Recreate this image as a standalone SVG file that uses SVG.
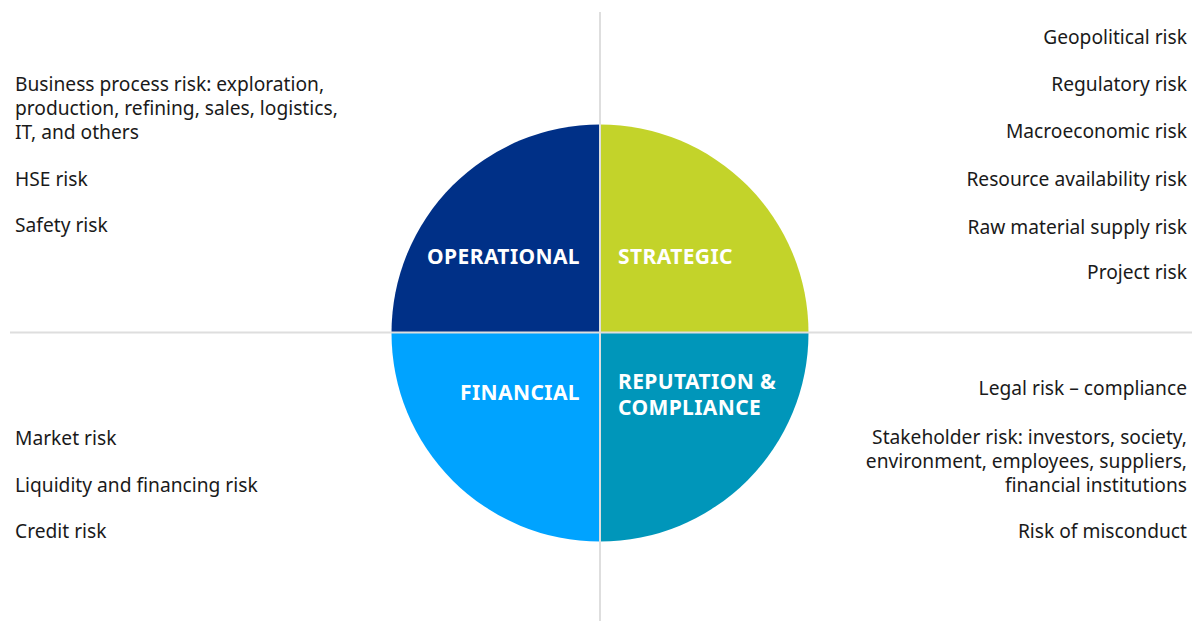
<svg xmlns="http://www.w3.org/2000/svg" width="1192" height="621" viewBox="0 0 1192 621">
  <style>
    .item { font-family: "Noto Sans", "Open Sans", sans-serif; font-size: 19.2px; fill: #1a1a1a; }
    .end { text-anchor: end; }
    .label { font-family: "Noto Sans", "Open Sans", sans-serif; font-size: 21px; font-weight: bold; fill: #ffffff; letter-spacing: 0.4px; }
    .axis { stroke: #dedede; stroke-width: 2; fill: none; }
  </style>
  <rect width="1192" height="621" fill="#ffffff"/>

  <!-- quadrant wedges of the risk circle -->
  <g id="operational">
    <path d="M600,333 L391.5,333 A208.5,208.5 0 0 1 600,124.5 Z" fill="#003087"/>
    <text class="label end" x="580" y="264">OPERATIONAL</text>
  </g>
  <g id="strategic">
    <path d="M600,333 L600,124.5 A208.5,208.5 0 0 1 808.5,333 Z" fill="#c3d32a"/>
    <text class="label" x="618" y="264">STRATEGIC</text>
  </g>
  <g id="financial">
    <path d="M600,333 L600,541.5 A208.5,208.5 0 0 1 391.5,333 Z" fill="#00a3ff"/>
    <text class="label end" x="580" y="400">FINANCIAL</text>
  </g>
  <g id="reputation">
    <path d="M600,333 L808.5,333 A208.5,208.5 0 0 1 600,541.5 Z" fill="#0096ba"/>
    <text class="label" x="618" y="389">REPUTATION &amp;</text>
    <text class="label" x="618" y="415">COMPLIANCE</text>
  </g>

  <!-- dividing axes -->
  <g id="connectors">
    <line class="axis" x1="600" y1="12" x2="600" y2="621"/>
    <line class="axis" x1="10" y1="332.5" x2="1192" y2="332.5"/>
  </g>

  <!-- operational risks -->
  <g id="operational-list">
    <text class="item" x="15" y="91">Business process risk: exploration,</text>
    <text class="item" x="15" y="115">production, refining, sales, logistics,</text>
    <text class="item" x="15" y="139">IT, and others</text>
    <text class="item" x="15" y="186">HSE risk</text>
    <text class="item" x="15" y="232">Safety risk</text>
  </g>

  <!-- strategic risks -->
  <g id="strategic-list">
    <text class="item end" x="1187" y="44">Geopolitical risk</text>
    <text class="item end" x="1187" y="91">Regulatory risk</text>
    <text class="item end" x="1187" y="138">Macroeconomic risk</text>
    <text class="item end" x="1187" y="186">Resource availability risk</text>
    <text class="item end" x="1187" y="234">Raw material supply risk</text>
    <text class="item end" x="1187" y="279">Project risk</text>
  </g>

  <!-- financial risks -->
  <g id="financial-list">
    <text class="item" x="15" y="445">Market risk</text>
    <text class="item" x="15" y="492">Liquidity and financing risk</text>
    <text class="item" x="15" y="538">Credit risk</text>
  </g>

  <!-- reputation and compliance risks -->
  <g id="reputation-list">
    <text class="item end" x="1187" y="395">Legal risk – compliance</text>
    <text class="item end" x="1187" y="444">Stakeholder risk: investors, society,</text>
    <text class="item end" x="1187" y="468">environment, employees, suppliers,</text>
    <text class="item end" x="1187" y="492">financial institutions</text>
    <text class="item end" x="1187" y="538">Risk of misconduct</text>
  </g>
</svg>
